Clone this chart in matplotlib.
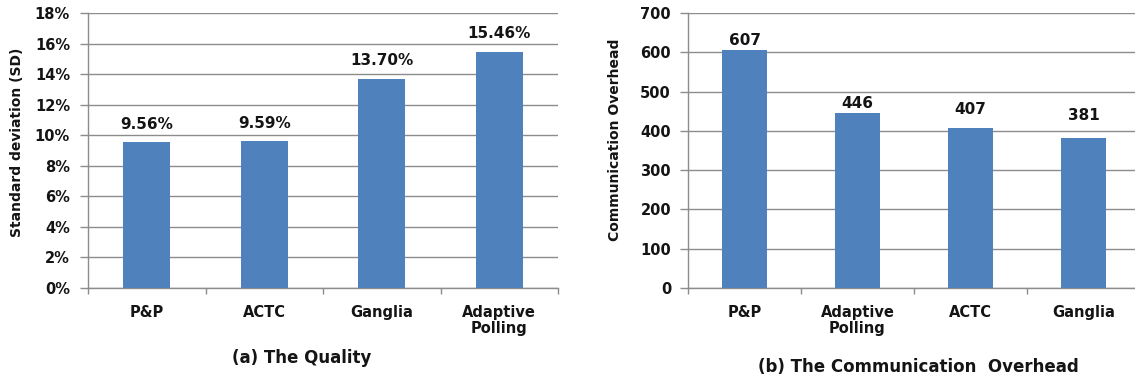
import matplotlib
matplotlib.use("Agg")
import matplotlib.pyplot as plt
import numpy as np

plt.rcParams['font.family'] = ['DejaVu Sans']
plt.rcParams['font.weight'] = 'bold'

# Panel (a): quality, standard deviation in percent
quality_cats = ["P&P", "ACTC", "Ganglia", "Adaptive\nPolling"]
quality_sd = [9.56, 9.59, 13.70, 15.46]
quality_ticks = [0, 2, 4, 6, 8, 10, 12, 14, 16, 18]

# Panel (b): communication overhead
overhead_cats = ["P&P", "Adaptive\nPolling", "ACTC", "Ganglia"]
overhead_vals = [607, 446, 407, 381]
overhead_ticks = [0, 100, 200, 300, 400, 500, 600, 700]

BAR = "#4F81BD"
GRID = "#8C8C8C"
TXT = "#141414"
W, H = 1135, 381

fig = plt.figure(figsize=(W / 100, H / 100), dpi=100)
PT = 72 / 100  # points per pixel


def px_axes(x0, x1, y0, y1):
    return fig.add_axes([x0 / W, 1 - y1 / H, (x1 - x0) / W, (y1 - y0) / H])


def style(ax, ticks, fmt, ncat, pad_px):
    ax.set_ylim(ticks[0], ticks[-1])
    ax.set_yticks(ticks)
    ax.set_yticklabels([fmt(t) for t in ticks], fontsize=10.5,
                       fontweight='bold', color=TXT)
    ax.set_xlim(-0.5, ncat - 0.5)
    ax.yaxis.grid(True, color=GRID, linewidth=1)
    ax.set_axisbelow(True)
    for s in ['top', 'right']:
        ax.spines[s].set_visible(False)
    for s in ['left', 'bottom']:
        ax.spines[s].set_color(GRID)
        ax.spines[s].set_linewidth(1)
    ax.tick_params(axis='y', length=8 * PT, width=1, color=GRID, pad=pad_px * PT)
    # category boundary ticks on x
    ax.set_xticks(np.arange(-0.5, ncat, 1.0))
    ax.set_xticklabels([])
    ax.tick_params(axis='x', length=6 * PT, width=1, color=GRID, direction='out')


def value_labels(ax, xs, vals, texts, gaps_px):
    for xi, v, t, g in zip(xs, vals, texts, gaps_px):
        ax.annotate(t, (xi, v), xytext=(0, g * PT), textcoords='offset points',
                    ha='center', va='bottom', fontsize=11, fontweight='bold',
                    color=TXT)


def cat_labels(ax, xs, cats):
    for xi, c in zip(xs, cats):
        ax.annotate(c, (xi, 0), xytext=(0, -17 * PT), textcoords='offset points',
                    ha='center', va='top', fontsize=10.5, fontweight='bold',
                    linespacing=1.05, color=TXT)


# ---- (a) The Quality ----
ax1 = px_axes(88, 558, 13, 288)
x1 = np.arange(len(quality_cats))
ax1.bar(x1, quality_sd, width=0.40, color=BAR, zorder=3)
style(ax1, quality_ticks, lambda t: f"{t}%", len(quality_cats), 10)
value_labels(ax1, x1, quality_sd, [f"{v:.2f}%" for v in quality_sd],
             [10, 10, 11, 11])
cat_labels(ax1, x1, quality_cats)
ax1.set_ylabel("Standard deviation (SD)", fontsize=10, fontweight='bold',
               color=TXT)
ax1.yaxis.set_label_coords(-64 / 470, 0.53)
fig.text(302 / W, 1 - 358 / H, "(a) The Quality", ha='center', va='center',
         fontsize=12, fontweight='bold', color=TXT)

# ---- (b) The Communication Overhead ----
ax2 = px_axes(688, 1140, 13, 288)
x2 = np.arange(len(overhead_cats))
ax2.bar(x2, overhead_vals, width=0.39, color=BAR, zorder=3)
style(ax2, overhead_ticks, lambda t: f"{t}", len(overhead_cats), 9)
value_labels(ax2, x2, overhead_vals, [f"{v}" for v in overhead_vals],
             [2, 2, 11, 15])
cat_labels(ax2, x2, overhead_cats)
ax2.set_ylabel("Communication Overhead", fontsize=10, fontweight='bold',
               color=TXT)
ax2.yaxis.set_label_coords(-66 / 452, 0.54)
fig.text(918 / W, 1 - 367 / H, "(b) The Communication  Overhead", ha='center',
         va='center', fontsize=12, fontweight='bold', color=TXT)

fig.savefig("out.png", dpi=100)
